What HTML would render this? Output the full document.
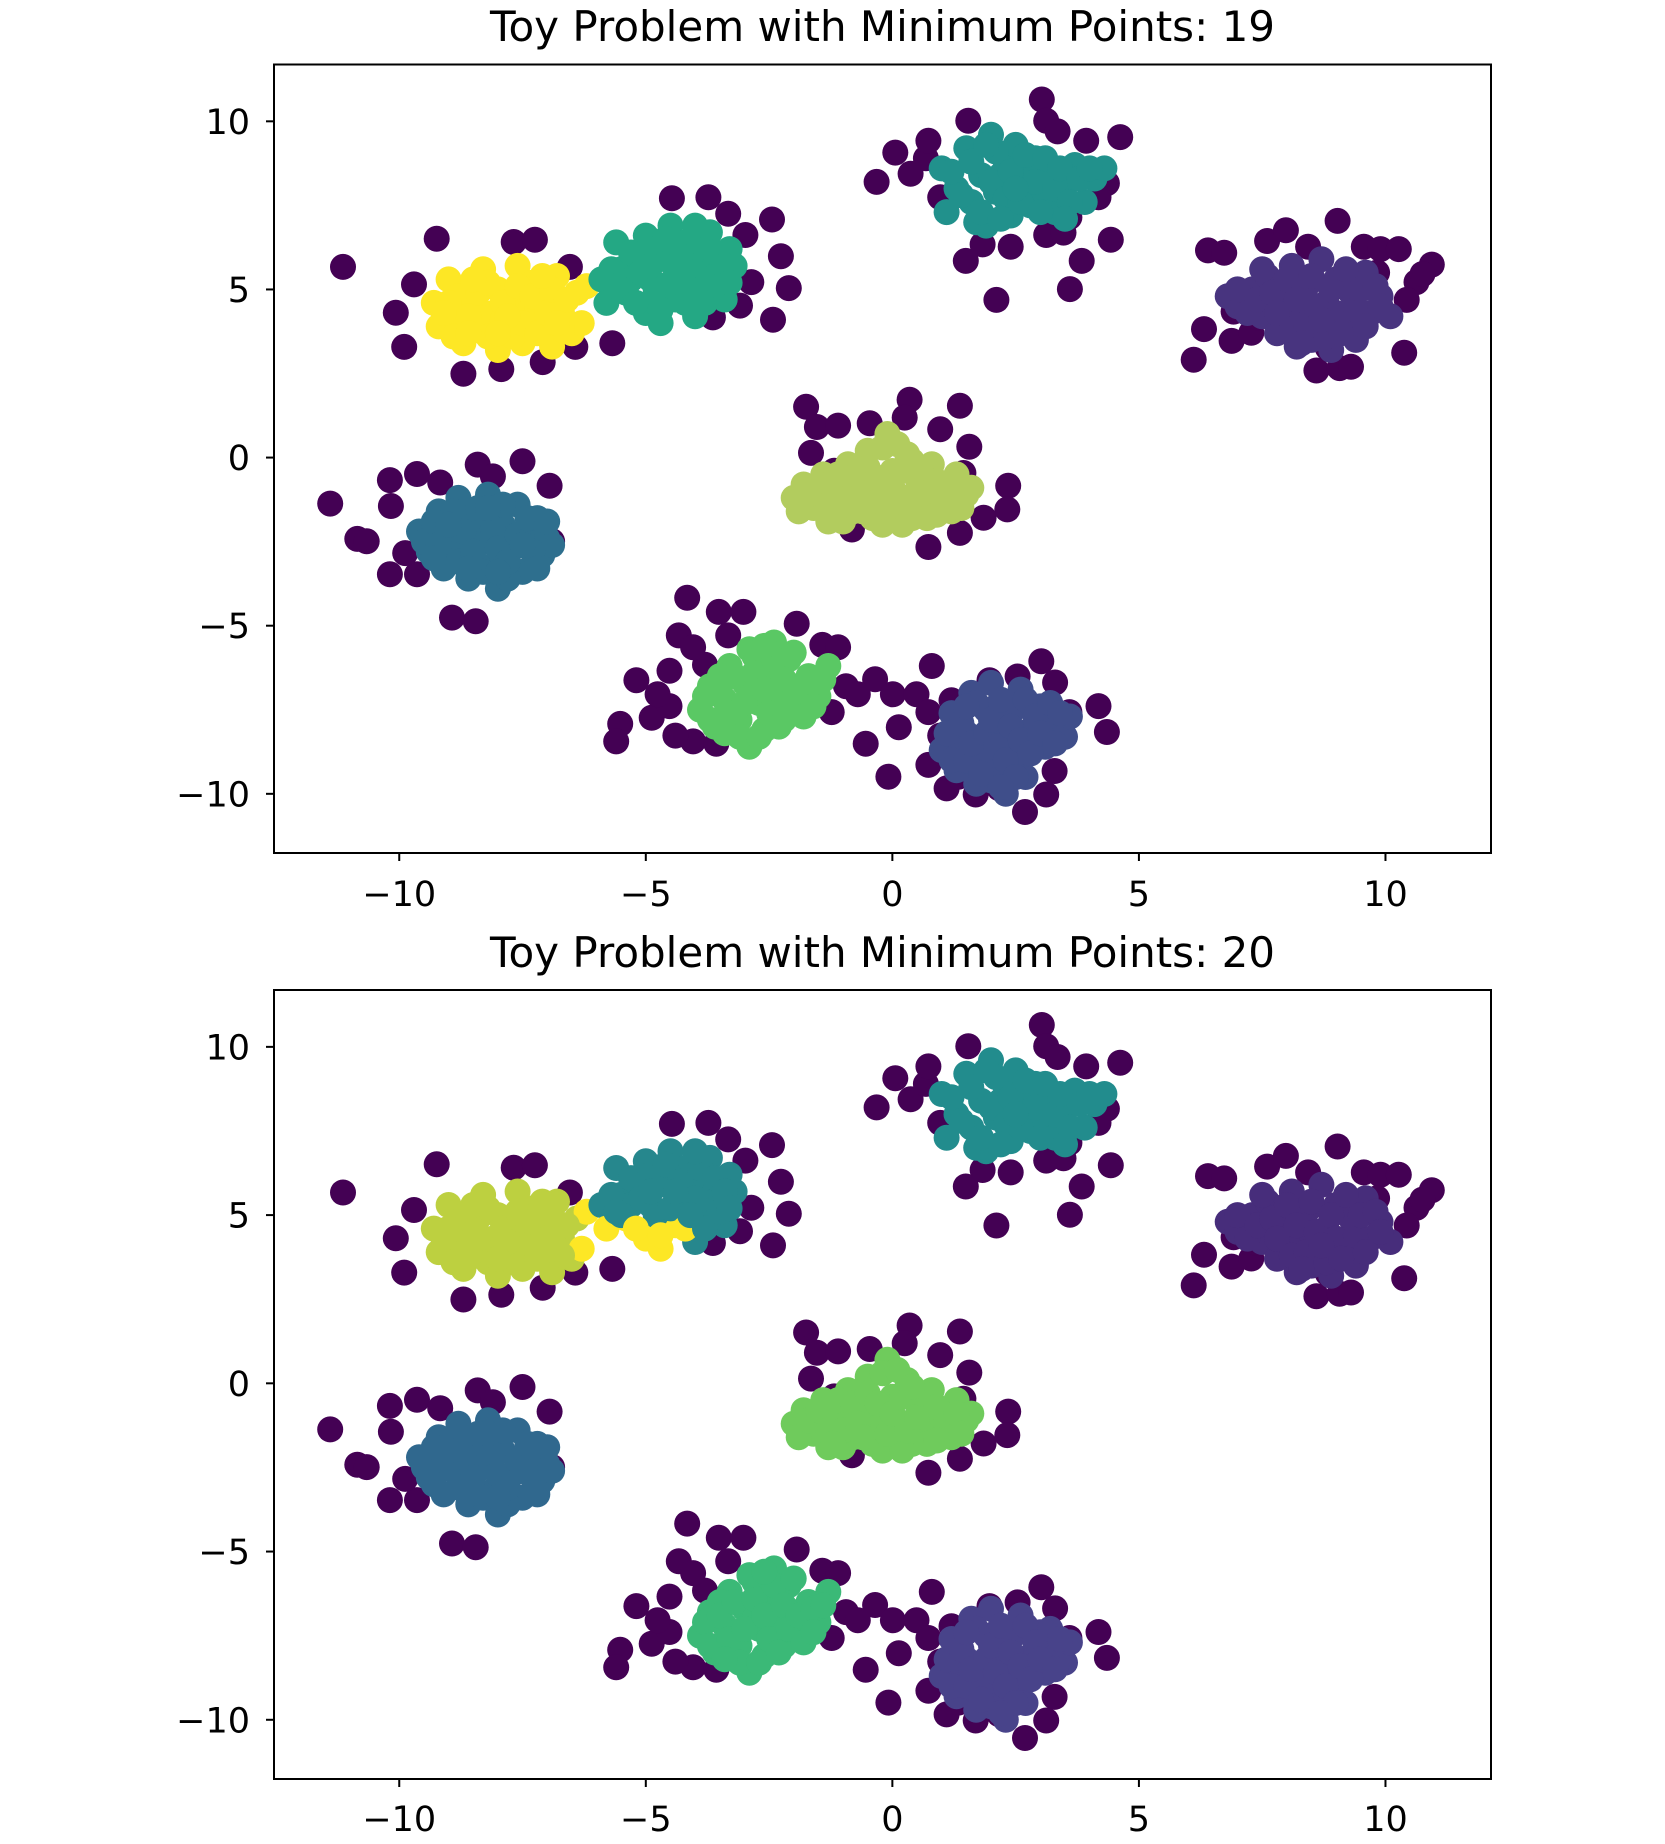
<!DOCTYPE html>
<html><head><meta charset="utf-8"><style>
html,body{margin:0;padding:0;background:#fff;}
svg text{font-family:"DejaVu Sans","Liberation Sans",sans-serif;fill:#000;}
</style></head>
<body>
<svg id="fig" width="1665" height="1839" viewBox="0 0 1665 1839" xmlns="http://www.w3.org/2000/svg"></svg>
<script>
// Shared dataset (both panels plot the same points)
const noiseX=[-11.14,-9.24,-10.07,-9.9,-9.7,-8.7,-7.93,-7.68,-7.25,-7.09,-6.43,-6.54,-5.68,-4.47,-3.73,-3.33,-2.44,-3.64,-2.42,-2.26,-2.1,-2.86,-2.98,-3.09,
-11.4,-10.85,-10.19,-10.17,-9.64,-9.17,-8.41,-8.1,-7.5,-6.95,-10.19,-9.64,-6.9,-8.93,-8.45,-9.88,-10.66,
-1.75,-1.53,-1.65,-1.1,-0.46,0.35,0.25,0.97,1.37,1.56,1.44,2.35,2.33,1.85,1.37,0.73,-0.82,-1.18,
-4.16,-4.33,-5.19,-5.52,-5.6,-4.88,-4.52,-4.04,-3.52,-3.02,-3.8,-4.52,-4.04,-3.33,-1.94,-1.42,-1.1,-4.76,-4.4,-3.57,-0.94,-1.23,-0.35,-0.7,0.01,-0.54,-0.08,0.13,0.49,0.8,0.73,0.73,0.97,1.2,1.97,2.54,3.02,3.3,3.59,4.18,4.35,3.29,3.12,2.69,2.17,1.69,1.1,1.34,1.01,2.4,
-0.32,0.06,0.37,0.68,0.73,1.54,0.97,3.03,3.12,3.35,3.93,4.62,4.35,4.18,3.59,3.12,3.47,4.43,3.84,3.6,2.4,1.83,1.49,2.11,
6.4,6.73,6.11,6.32,6.92,6.88,7.6,7.98,8.43,9.03,9.56,9.9,10.27,10.63,10.94,10.75,10.38,10.43,7.28,7.4,8.6,9.07,9.3,8.83,9.83];
const noiseY=[5.67,6.51,4.31,3.29,5.15,2.49,2.63,6.41,6.48,2.84,3.29,5.67,3.4,7.71,7.74,7.25,7.08,4.17,4.1,5.99,5.04,5.22,6.62,4.52,
-1.37,-2.42,-0.67,-1.44,-0.49,-0.74,-0.21,-0.56,-0.11,-0.84,-3.47,-3.47,-2.49,-4.76,-4.87,-2.84,-2.49,
1.51,0.91,0.14,0.95,1.02,1.72,1.19,0.84,1.54,0.32,-0.46,-0.84,-1.54,-1.79,-2.24,-2.66,-2.14,-0.39,
-4.17,-5.29,-6.62,-7.92,-8.44,-7.74,-7.39,-8.44,-4.59,-4.59,-6.16,-6.34,-5.64,-5.29,-4.94,-5.57,-5.64,-7.04,-8.27,-8.51,-6.8,-7.57,-6.59,-7.04,-7.04,-8.51,-9.49,-8.02,-7.04,-6.2,-7.57,-9.14,-8.27,-7.22,-6.62,-6.51,-6.06,-6.69,-7.57,-7.39,-8.16,-9.32,-10.02,-10.54,-9.84,-10.02,-9.84,-9.49,-8.79,-7.39,
8.2,9.07,8.44,8.9,9.42,10.02,7.74,10.65,10.02,9.7,9.42,9.53,8.16,7.74,7.15,6.62,6.69,6.48,5.85,5.01,6.27,6.34,5.85,4.69,
6.16,6.09,2.91,3.82,4.34,3.47,6.44,6.76,6.27,7.04,6.27,6.2,6.2,5.22,5.74,5.46,3.12,4.69,3.71,4.17,2.59,2.66,2.7,3.26,5.5];

// Core cluster points, one pair of arrays per cluster
const clA_x=[-9.3,-9.2,-9.0,-8.9,-8.7,-8.6,-8.5,-8.4,-8.3,-8.1,-8.0,-8.0,-7.8,-7.7,-7.6,-7.5,-7.4,-7.3,-7.1,-7.0,-6.9,-6.8,-6.7,-6.5,-6.4,-6.2,-6.3,-8.8,-7.9,-7.2,
-9.0,-8.8,-8.6,-8.4,-8.2,-8.2,-7.9,-7.7,-7.6,-7.5,-7.3,-7.2,-7.0,-6.9,-6.7,-6.6,-8.9,-8.5,-7.8,-7.1,-8.6,-6.8,-9.1,-8.0];
const clA_y=[4.6,3.9,5.3,4.2,3.4,5.0,4.5,3.8,5.6,4.3,3.2,5.0,3.9,4.7,5.7,3.4,4.3,5.2,3.9,4.8,3.3,5.4,4.3,3.7,4.9,5.1,4.0,4.8,4.1,4.5,
4.6,4.0,4.2,4.9,3.6,5.2,4.6,3.6,5.1,4.0,4.8,3.7,4.3,5.0,3.8,4.7,3.6,5.3,4.2,5.4,3.7,4.0,4.3,3.7];
const clB_x=[-5.9,-5.8,-5.6,-5.5,-5.4,-5.2,-5.0,-5.0,-4.9,-4.7,-4.6,-4.5,-4.4,-4.3,-4.2,-4.0,-3.9,-3.8,-3.7,-3.6,-3.4,-3.3,-3.2,-4.8,-5.3,-4.1,
-5.7,-5.5,-5.3,-5.1,-4.9,-4.8,-4.6,-4.5,-4.3,-4.2,-4.0,-3.9,-3.8,-3.6,-3.5,-5.2,-4.7,-4.4,-4.1,-3.4,-5.6,-4.9,-4.0,-3.3];
const clB_y=[5.3,4.6,6.4,5.6,4.9,6.0,4.3,6.6,5.3,4.0,5.9,6.9,4.7,5.5,6.4,4.2,5.0,6.0,6.7,5.4,4.7,6.2,5.7,4.6,5.3,5.9,
5.6,5.0,6.1,5.5,6.2,5.0,6.5,5.2,6.0,4.6,5.5,6.4,4.6,6.1,5.1,4.6,4.4,5.7,5.0,5.7,5.1,5.7,6.9,5.2];
const clC_x=[1.0,1.1,1.3,1.5,1.6,1.8,1.9,2.0,2.1,2.3,2.4,2.5,2.6,2.8,2.9,3.0,3.2,3.3,3.5,3.7,3.9,4.1,4.3,2.2,2.7,1.7,
1.2,1.4,1.6,1.8,2.0,2.1,2.3,2.4,2.6,2.7,2.9,3.0,3.1,3.3,3.4,3.6,3.8,4.0,2.2,1.9,2.5,3.5];
const clC_y=[8.6,7.3,8.0,9.2,7.6,8.4,6.9,9.6,7.9,8.8,7.2,9.3,8.2,7.5,8.9,7.9,8.5,7.3,8.1,8.7,7.6,8.3,8.6,8.4,8.6,7.0,
8.5,7.8,8.8,7.3,8.2,9.1,7.7,8.5,7.6,9.0,8.2,7.3,8.9,8.0,8.6,7.6,8.3,8.6,7.1,9.3,8.0,7.1];
const clD_x=[6.8,7.0,7.3,7.5,7.6,7.8,7.9,8.1,8.2,8.3,8.4,8.6,8.7,8.8,8.9,9.0,9.2,9.3,9.4,9.6,9.7,9.9,10.1,8.5,8.0,
7.0,7.2,7.4,7.7,7.8,8.0,8.1,8.2,8.4,8.5,8.6,8.8,8.9,9.0,9.1,9.2,9.4,9.5,9.6,9.8,8.3,8.7,9.9,7.5];
const clD_y=[4.8,4.5,5.0,4.2,5.4,3.7,4.7,5.7,3.3,4.3,5.1,3.9,5.9,4.6,3.2,5.3,4.0,4.9,3.5,5.5,4.3,4.8,4.2,3.5,4.2,
5.0,4.3,4.7,4.9,4.3,5.3,3.8,4.7,3.9,5.4,4.5,3.6,5.0,4.3,3.7,5.6,4.4,5.0,3.9,5.1,3.4,4.1,4.5,5.6];
const clE_x=[-2.0,-1.8,-1.6,-1.4,-1.3,-1.1,-0.9,-0.8,-0.6,-0.5,-0.3,-0.2,-0.1,0.0,0.1,0.3,0.4,0.5,0.7,0.8,1.0,1.2,1.3,1.5,1.6,0.2,-1.0,
-1.9,-1.7,-1.5,-1.3,-1.1,-1.0,-0.8,-0.7,-0.5,-0.4,-0.3,-0.2,-0.1,0.0,0.1,0.2,0.3,0.5,0.6,0.7,0.9,1.1,1.3,1.4,-1.2,-0.6,0.4,0.9];
const clE_y=[-1.2,-0.8,-1.5,-0.5,-1.9,-1.0,-0.2,-1.6,-0.8,0.2,-1.3,-2.0,0.7,-0.4,-1.1,0.1,-1.8,-0.6,-1.4,-0.2,-1.0,-1.6,-0.5,-1.1,-0.9,-2.0,-1.9,
-1.6,-1.1,-0.8,-1.4,-0.5,-1.4,-0.6,-1.2,-0.3,-1.8,-0.6,0.3,-1.5,-0.9,0.4,-0.4,-1.4,-1.0,-0.3,-1.8,-0.7,-1.3,-0.9,-1.5,-1.8,-1.6,-0.1,-1.7];
const clF_x=[-9.6,-9.4,-9.2,-9.1,-9.0,-8.8,-8.7,-8.6,-8.5,-8.3,-8.2,-8.1,-8.0,-7.9,-7.7,-7.6,-7.5,-7.4,-7.2,-7.1,-7.0,-6.9,-8.9,-7.8,
-9.5,-9.3,-9.2,-8.9,-8.8,-8.7,-8.5,-8.4,-8.3,-8.1,-8.0,-7.9,-7.8,-7.6,-7.4,-7.3,-7.2,-7.0,-9.0,-8.6,-8.0,-7.5,-9.3,-8.2];
const clF_y=[-2.2,-2.8,-1.6,-3.3,-2.3,-1.2,-2.8,-3.6,-1.9,-2.5,-1.1,-3.2,-3.9,-2.0,-2.7,-1.4,-3.4,-2.2,-1.8,-2.9,-2.4,-2.6,-2.6,-3.6,
-2.5,-1.9,-2.6,-1.6,-3.1,-2.2,-2.8,-1.5,-3.4,-2.1,-2.7,-1.4,-3.1,-2.3,-1.8,-2.8,-3.3,-1.9,-2.0,-3.3,-3.4,-2.6,-3.0,-1.5];
const clG_x=[-3.9,-3.7,-3.6,-3.4,-3.3,-3.1,-3.0,-2.9,-2.8,-2.7,-2.6,-2.5,-2.4,-2.3,-2.2,-2.1,-2.0,-1.9,-1.7,-1.5,-1.3,-3.5,-2.8,
-3.8,-3.7,-3.5,-3.3,-3.2,-3.1,-3.0,-2.8,-2.7,-2.6,-2.5,-2.4,-2.3,-2.2,-2.1,-2.0,-1.9,-1.8,-1.6,-1.4,-3.4,-2.9,-2.6,-1.6];
const clG_y=[-7.5,-6.8,-8.0,-7.2,-6.2,-7.8,-6.7,-8.6,-5.9,-7.3,-8.1,-6.4,-5.5,-7.0,-7.8,-6.0,-6.8,-7.5,-6.5,-7.1,-6.2,-6.5,-7.0,
-7.1,-7.8,-6.9,-7.6,-6.5,-8.3,-7.3,-6.4,-8.3,-6.9,-7.6,-6.0,-8.0,-6.6,-7.3,-5.8,-6.9,-7.7,-6.7,-6.6,-8.2,-5.7,-5.6,-7.4];
const clH_x=[1.0,1.2,1.3,1.5,1.6,1.7,1.8,1.9,2.0,2.1,2.2,2.3,2.4,2.5,2.6,2.7,2.8,3.0,3.1,3.3,3.5,3.6,2.0,1.4,
1.1,1.2,1.4,1.5,1.6,1.7,1.8,1.9,2.0,2.1,2.2,2.3,2.4,2.5,2.6,2.7,2.8,2.9,3.0,3.2,3.3,3.4,2.2,1.5];
const clH_y=[-8.7,-7.6,-9.3,-8.2,-7.0,-9.7,-8.8,-7.5,-6.7,-9.2,-8.3,-10.0,-7.6,-8.9,-6.9,-9.5,-8.1,-7.4,-8.6,-7.9,-8.3,-7.7,-9.6,-8.5,
-8.2,-9.0,-7.9,-9.0,-8.5,-7.3,-9.4,-8.2,-7.8,-8.6,-7.2,-9.0,-8.0,-9.5,-8.4,-7.2,-8.8,-7.7,-8.2,-7.3,-8.5,-7.6,-9.8,-7.4];

const xTicks=[-10,-5,0,5,10];
const yTicks=[-10,-5,0,5,10];
const titles=["Toy Problem with Minimum Points: 19","Toy Problem with Minimum Points: 20"];
const noiseColor="#440154";
const colors19={A:"#fde725",B:"#24a884",C:"#21918c",D:"#48347f",E:"#b2cc5e",F:"#2e6f8e",G:"#5ac864",H:"#3f4e8a"};
const colors20={A:"#bdd040",B:"#26878d",C:"#228c8d",D:"#472d7b",E:"#6fcb5c",F:"#30688e",G:"#3bb977",H:"#48438a",Y:"#fde725"};

const NS="http://www.w3.org/2000/svg";
const svg=document.getElementById('fig');
function mk(tag,attrs,parent){const e=document.createElementNS(NS,tag);for(const k in attrs)e.setAttribute(k,attrs[k]);(parent||svg).appendChild(e);return e;}

const panels=[{top:64.5,bottom:853,titleY:41,xLabY:906,colors:colors19,split:false},
              {top:990,bottom:1779,titleY:967,xLabY:1831,colors:colors20,split:true}];
const L=274,R=1491,XMIN=-12.54,XMAX=12.14,YMIN=-11.76,YMAX=11.69;

panels.forEach((p,pi)=>{
  const g=mk('g',{});
  
  
  const sx=v=>L+(v-XMIN)/(XMAX-XMIN)*(R-L);
  const sy=v=>p.bottom-(v-YMIN)/(YMAX-YMIN)*(p.bottom-p.top);
  const t=mk('text',{x:(L+R)/2,y:p.titleY,'font-size':42,'text-anchor':'middle'},g);
  t.textContent=titles[pi];
  
  
  const pts=mk('g',{},g);
  
  
  function dot(x,y,c){const d=mk('circle',{cx:sx(x).toFixed(1),cy:sy(y).toFixed(1),r:13,fill:c},pts);
    
    }
  for(let i=0;i<noiseX.length;i++)dot(noiseX[i],noiseY[i],noiseColor);
  const cl=[['A',clA_x,clA_y],['B',clB_x,clB_y],['C',clC_x,clC_y],['D',clD_x,clD_y],['E',clE_x,clE_y],['F',clF_x,clF_y],['G',clG_x,clG_y],['H',clH_x,clH_y]];
  cl.forEach(([k,xs,ys])=>{
    for(let i=0;i<xs.length;i++){
      let c=p.colors[k];
      if(p.split){
        if(k==='A'&&xs[i]>-6.35)c=p.colors.Y;
        if(k==='B'&&ys[i]<5.0&&xs[i]<-4.0)c=p.colors.Y;
      }
      dot(xs[i],ys[i],c);
    }
  });
  const fr=mk('rect',{x:L,y:p.top,width:R-L,height:p.bottom-p.top,fill:'none',stroke:'#000','stroke-width':2},g);
  
  
  xTicks.forEach(v=>{
    const x=sx(v);
    const tk=mk('line',{x1:x,x2:x,y1:p.bottom,y2:p.bottom+8,stroke:'#000','stroke-width':2},g);
    
    
    const lb=mk('text',{x:x,y:p.xLabY,'font-size':35,'text-anchor':'middle'},g);
    lb.textContent=v<0?'\u2212'+Math.abs(v):String(v);
    
    
  });
  yTicks.forEach(v=>{
    const y=sy(v);
    const tk=mk('line',{x1:L-8,x2:L,y1:y,y2:y,stroke:'#000','stroke-width':2},g);
    
    
    const lb=mk('text',{x:250,y:y+12.5,'font-size':35,'text-anchor':'end'},g);
    lb.textContent=v<0?'\u2212'+Math.abs(v):String(v);
    
    
  });
});
</script>
</body></html>
